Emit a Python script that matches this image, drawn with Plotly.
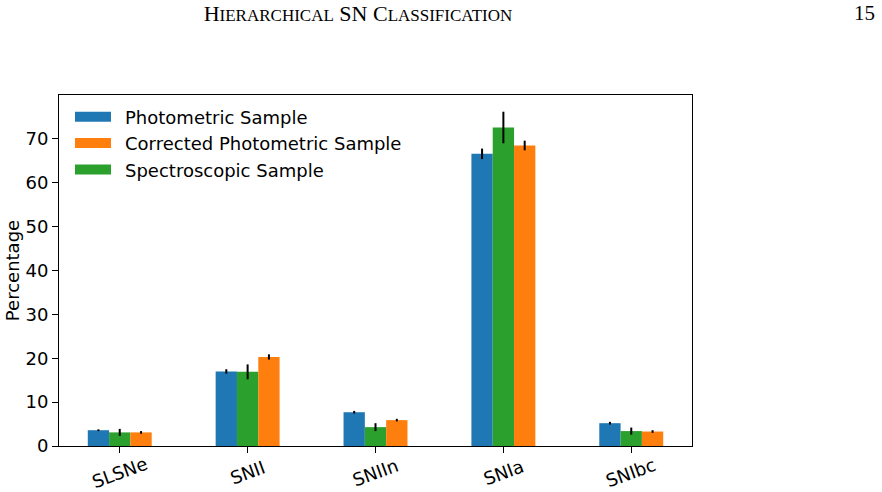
import plotly.graph_objects as go

categories = ["SLSNe", "SNII", "SNIIn", "SNIa", "SNIbc"]

photometric = [3.6, 17.0, 7.7, 66.6, 5.2]
photometric_err = [0.2, 0.5, 0.3, 1.2, 0.3]

spectroscopic = [3.1, 16.9, 4.3, 72.6, 3.4]
spectroscopic_err = [0.8, 1.7, 0.9, 3.6, 0.8]

corrected = [3.1, 20.3, 5.9, 68.5, 3.3]
corrected_err = [0.3, 0.6, 0.3, 1.1, 0.3]

series_order = ["Photometric Sample", "Spectroscopic Sample", "Corrected Photometric Sample"]
legend_order = ["Photometric Sample", "Corrected Photometric Sample", "Spectroscopic Sample"]
colors = {
    "Photometric Sample": "#1f77b4",
    "Corrected Photometric Sample": "#ff7f0e",
    "Spectroscopic Sample": "#2ca02c",
}
values = {
    "Photometric Sample": (photometric, photometric_err),
    "Spectroscopic Sample": (spectroscopic, spectroscopic_err),
    "Corrected Photometric Sample": (corrected, corrected_err),
}

yticks = [0, 10, 20, 30, 40, 50, 60, 70]

FONT = "DejaVu Sans"
FS = 18

fig = go.Figure()
for name in series_order:
    v, e = values[name]
    fig.add_trace(go.Bar(
        x=categories, y=v, name=name,
        marker=dict(color=colors[name], line=dict(width=0)),
        error_y=dict(type="data", array=e, color="black", thickness=2, width=0),
        showlegend=False,
    ))

for i, name in enumerate(legend_order):
    fig.add_trace(go.Scatter(
        x=[None], y=[None], mode="lines", name="\u2002" + name,
        line=dict(color=colors[name], width=12),
        legendgroup=f"g{i}", showlegend=True,
    ))

ymax = max(s + e for s, e in zip(spectroscopic, spectroscopic_err)) * 1.05

annotations = []
for c in categories:
    annotations.append(dict(
        x=c, y=-0.076, xref="x", yref="paper", text=c, showarrow=False,
        textangle=-20, xanchor="center", yanchor="middle",
        font=dict(family=FONT, size=FS, color="black"),
    ))

annotations.append(dict(
    x=(865 - 59) / 633, y=(446 - 13) / 351, xref="paper", yref="paper",
    text="15", showarrow=False, xanchor="center", yanchor="middle",
    font=dict(family="Liberation Serif", size=21, color="black"),
))

sc = '<span style="font-size:17px">'
header = f'H{sc}IERARCHICAL</span> SN C{sc}LASSIFICATION</span>'

fig.update_layout(
    width=882, height=492,
    margin=dict(l=59, r=190, t=95, b=46, autoexpand=False),
    paper_bgcolor="white", plot_bgcolor="white",
    barmode="group", bargap=0.5, bargroupgap=0,
    title=dict(text=header, x=358 / 882, xref="container", xanchor="center",
               y=1 - 13 / 492, yref="container", yanchor="middle",
               font=dict(family="Liberation Serif", size=22, color="black")),
    font=dict(family=FONT, size=FS, color="black"),
    legend=dict(x=(70 - 59) / 633, y=0.99, xanchor="left", yanchor="top",
                bgcolor="rgba(255,255,255,0)", borderwidth=0,
                font=dict(family=FONT, size=FS, color="black"),
                traceorder="grouped", tracegroupgap=0, itemwidth=36),
    annotations=annotations,
)
fig.update_xaxes(
    type="category", range=[-0.475, 4.475], showticklabels=False,
    showline=True, linecolor="black", linewidth=1, mirror=True,
    ticks="outside", ticklen=6, tickwidth=1, tickcolor="black",
    showgrid=False, zeroline=False,
)
fig.update_yaxes(
    range=[0, ymax], tickvals=yticks,
    showline=True, linecolor="black", linewidth=1, mirror=True,
    ticks="outside", ticklen=6, tickwidth=1, tickcolor="black",
    showgrid=False, zeroline=False,
    tickfont=dict(family=FONT, size=FS, color="black"),
    title=dict(text="Percentage", standoff=1, font=dict(family=FONT, size=FS, color="black")),
)

fig.write_html("out.html")
